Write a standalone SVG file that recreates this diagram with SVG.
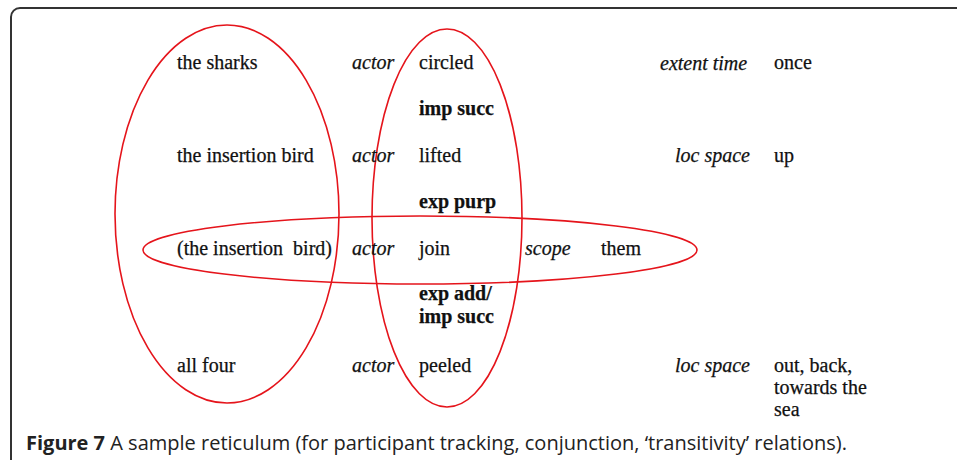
<svg xmlns="http://www.w3.org/2000/svg" width="957" height="460" viewBox="0 0 957 460">
  <style>
    .t { font-family: "Liberation Serif", "Times New Roman", serif; font-size: 20px; fill: #111; stroke: #111; stroke-width: 0.25; }
    .i { font-style: italic; }
    .b { font-weight: bold; }
    .ring { fill: none; stroke: #e5141b; stroke-width: 1.6; }
    .cap { font-family: "Open Sans", "Liberation Sans", sans-serif; font-size: 20px; fill: #222; }
  </style>
  <rect x="0" y="0" width="957" height="460" fill="#ffffff"/>
  <!-- panel frame -->
  <rect x="11" y="8" width="970" height="470" rx="9" ry="9" fill="none" stroke="#333" stroke-width="2"/>

  <!-- participant / conjunction / clause loops -->
  <g id="loops">
    <ellipse id="participants" class="ring" cx="227" cy="214" rx="112" ry="189"/>
    <ellipse id="processes" class="ring" cx="447" cy="218" rx="75" ry="189"/>
    <ellipse id="clause" class="ring" cx="420" cy="250" rx="277" ry="34"/>
  </g>

  <g id="row1">
    <text class="t" x="177" y="69">the sharks</text>
    <text class="t i" x="352" y="69">actor</text>
    <text class="t" x="419" y="69">circled</text>
    <text class="t i" x="660" y="70">extent time</text>
    <text class="t" x="774" y="69">once</text>
  </g>
  <text id="conj1" class="t b" x="419" y="115">imp succ</text>
  <g id="row2">
    <text class="t" x="177" y="162">the insertion bird</text>
    <text class="t i" x="352" y="162">actor</text>
    <text class="t" x="419" y="162">lifted</text>
    <text class="t i" x="675" y="162">loc space</text>
    <text class="t" x="774" y="162">up</text>
  </g>
  <text id="conj2" class="t b" x="419" y="208">exp purp</text>
  <g id="row3">
    <text class="t" x="177" y="255" xml:space="preserve">(the insertion  bird)</text>
    <text class="t i" x="352" y="255">actor</text>
    <text class="t" x="419" y="255">join</text>
    <text class="t i" x="525" y="255">scope</text>
    <text class="t" x="601" y="255">them</text>
  </g>
  <g id="conj3">
    <text class="t b" x="419" y="300">exp add/</text>
    <text class="t b" x="419" y="323">imp succ</text>
  </g>
  <g id="row4">
    <text class="t" x="177" y="372">all four</text>
    <text class="t i" x="352" y="372">actor</text>
    <text class="t" x="419" y="372">peeled</text>
    <text class="t i" x="675" y="372">loc space</text>
    <text class="t" x="774" y="372">out, back,</text>
    <text class="t" x="774" y="394">towards the</text>
    <text class="t" x="774" y="416">sea</text>
  </g>

  <text class="cap" x="26" y="450"><tspan font-weight="bold">Figure 7</tspan> A sample reticulum (for participant tracking, conjunction, ‘transitivity’ relations).</text>
</svg>
